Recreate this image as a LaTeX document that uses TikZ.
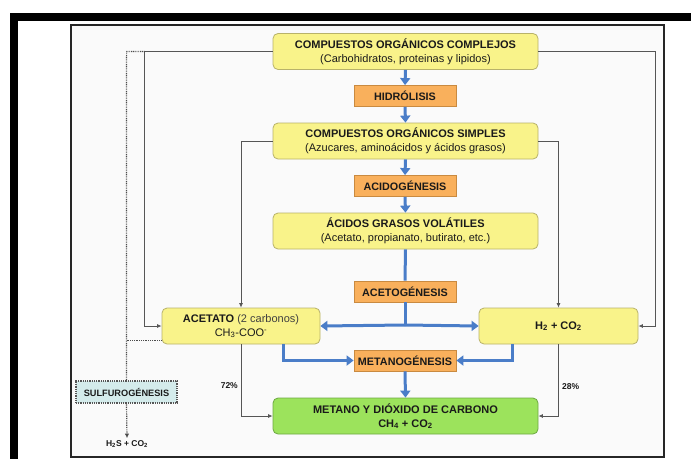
\documentclass[tikz,border=0pt]{standalone}
\usepackage{fontspec}
\setmainfont{Liberation Sans}
\usetikzlibrary{arrows.meta,calc}
\definecolor{yfill}{HTML}{F9F38A}
\definecolor{yborder}{HTML}{B8B26A}
\definecolor{ofill}{HTML}{F9B05C}
\definecolor{oborder}{HTML}{C98A40}
\definecolor{gfill}{HTML}{9CE35C}
\definecolor{gborder}{HTML}{6DA842}
\definecolor{bluearr}{HTML}{4A7DC8}
\definecolor{sfill}{HTML}{D4EBEB}
\definecolor{txt}{HTML}{1A1A1A}
\definecolor{thinline}{HTML}{555555}
\begin{document}
\begin{tikzpicture}[x=1pt,y=-1pt,
  ybox/.style={draw=yborder, fill=yfill, rounded corners=5pt, minimum width=265pt, minimum height=36pt,
    align=center, inner sep=0pt, line width=0.8pt, text=txt, font=\fontsize{11}{14}\selectfont},
  obox/.style={draw=oborder, fill=ofill, minimum width=102pt, minimum height=21pt,
    inner sep=0pt, line width=0.8pt, text=txt, font=\bfseries\fontsize{10.8}{13}\selectfont},
  gbox/.style={draw=gborder, fill=gfill, rounded corners=5pt, minimum width=265pt, minimum height=36pt,
    align=center, inner sep=0pt, line width=0.8pt, text=txt, font=\bfseries\fontsize{11}{14}\selectfont},
  sbox/.style={draw=thinline, fill=sfill, dash pattern=on 0.9pt off 0.9pt, line width=1.2pt, minimum width=101pt, minimum height=22pt,
    inner sep=0pt, text=txt, font=\bfseries\fontsize{9.2}{11}\selectfont},
  small/.style={text=txt, font=\bfseries\fontsize{8.5}{10}\selectfont, inner sep=0pt},
  thinarr/.style={draw=thinline, line width=0.8pt, -{Latex[length=4.5pt,width=4pt]}},
  bluearrow/.style={draw=bluearr, line width=3pt, -{Triangle[length=7pt,width=10pt]}},
  blueline/.style={draw=bluearr, line width=3pt},
  dotln/.style={draw=black!70, line width=1.2pt, dash pattern=on 0.9pt off 0.9pt},
  dotarr/.style={draw=black!70, line width=1.2pt, dash pattern=on 0.9pt off 0.9pt, -{Latex[length=4.5pt,width=4.5pt]}}
]
\useasboundingbox (0,0) rectangle (691,459);
\fill[white] (0,0) rectangle (691,459);
% outer black frame
\fill[black] (10,13) rectangle (691,21);
\fill[black] (10,13) rectangle (18,459);
% slide frame
\draw[black!85, line width=1.2pt, fill=black!2] (71,25) rectangle (664,457);

% nodes
\node[ybox] (T) at (405.5,51.5) {\textbf{COMPUESTOS ORGÁNICOS COMPLEJOS}\\(Carbohidratos, proteinas y lipidos)};
\node[obox] (HID) at (405,96) {HIDRÓLISIS};
\node[ybox] (S) at (405.5,141) {\textbf{COMPUESTOS ORGÁNICOS SIMPLES}\\(Azucares, aminoácidos y ácidos grasos)};
\node[obox] (ACID) at (405,186) {ACIDOGÉNESIS};
\node[ybox] (V) at (405.5,231) {\textbf{ÁCIDOS GRASOS VOLÁTILES}\\(Acetato, propianato, butirato, etc.)};
\node[obox] (ACET) at (405,291.5) {ACETOGÉNESIS};
\node[ybox, minimum width=158pt] (A) at (241,326) {\textbf{ACETATO} {\color{black!75}(2 carbonos)}\\CH\textsubscript{3}-COO\textsuperscript{-}};
\node[ybox, minimum width=159pt] (H) at (558.5,326) {\textbf{H\textsubscript{2} + CO\textsubscript{2}}};
\node[obox] (MET) at (405,360.5) {METANOGÉNESIS};
\node[gbox] (G) at (405.5,416) {METANO Y DIÓXIDO DE CARBONO\\CH\textsubscript{4} + CO\textsubscript{2}};
\node[sbox] (SUL) at (126.5,392) {SULFUROGÉNESIS};
\node[small] (HS) at (127,444) {H\textsubscript{2}S + CO\textsubscript{2}};
\node[small, anchor=east] (P72) at (238,386) {72\%};
\node[small, anchor=west] (P28) at (562,387) {28\%};

% helper coordinates
\coordinate (TL) at ($(T.west)+(-128,0)$);
\coordinate (TD) at ($(TL)+(-18,0)$);
\coordinate (AD) at ($(A.south west)+(-35,-4)$);
\coordinate (Aw) at ($(A.south west)+(0,-4)$);
\coordinate (HSend) at ($(HS.north)+(0,-2)$);
\coordinate (split) at (405,325);
\coordinate (Ab) at ($(A.south)+(42,0)$);
\coordinate (Hb) at ($(H.south)+(-46.5,0)$);

% thin black connectors
\draw[thinarr] (T.west) -- (TL) |- (A.west);
\draw[thinarr] (T.east) -- ++(117,0) |- (H.east);
\draw[thinarr] (S.west) -| (A.north);
\draw[thinarr] (S.east) -| (H.north);
\draw[thinarr] (A.south) |- (G.west);
\draw[thinarr] (H.south) |- (G.east);

% dotted sulfurogenesis branch
\draw[dotln] (TL) -- (TD) -- (SUL.north);
\draw[dotln] (AD) -- (Aw);
\draw[dotarr] (SUL.south) -- (HSend);

% blue main flow
\draw[bluearrow] (T.south) -- (HID.north);
\draw[bluearrow] (HID.south) -- (S.north);
\draw[bluearrow] (S.south) -- (ACID.north);
\draw[bluearrow] (ACID.south) -- (V.north);
\draw[blueline] (V.south) -- (ACET.north);
\draw[blueline] (ACET.south) -- (split);
\draw[bluearrow] (split) -- (A.east);
\draw[bluearrow] (split) -- (H.west);
\draw[bluearrow] (Ab) |- (MET.west);
\draw[bluearrow] (Hb) |- (MET.east);
\draw[bluearrow] (MET.south) -- (G.north);
\end{tikzpicture}
\end{document}
